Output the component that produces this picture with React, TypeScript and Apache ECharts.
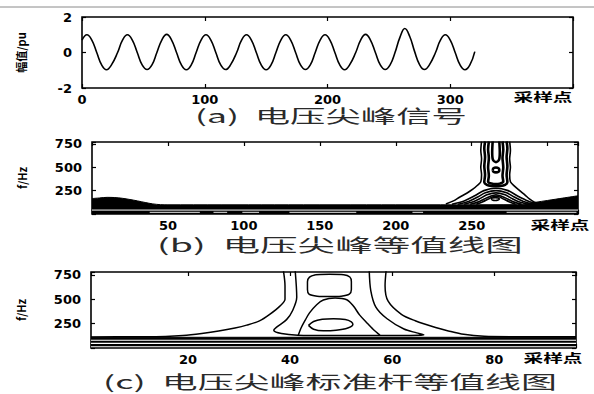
import React, { useEffect, useRef } from 'react';
import * as echarts from 'echarts';

// ---------- Panel (a): voltage spike waveform [sample, pu] ----------
const waveform: number[][] = [
  [0, 0.7], [4, 1.0], [8, 0.7], [12, 0], [16, -0.7], [20, -0.97], [24, -0.7],
  [29, 0], [33, 0.7], [37, 1.0], [41, 0.7], [45, 0], [49, -0.7], [53, -0.96], [57, -0.7],
  [61, 0], [65, 0.7], [69, 1.02], [73, 0.7], [77, 0], [81, -0.7], [85, -0.97], [89, -0.7],
  [93, 0], [97, 0.7], [101, 1.0], [105, 0.7], [109, 0], [113, -0.7], [117, -0.96], [121, -0.7],
  [126, 0], [130, 0.7], [134, 1.0], [138, 0.7], [142, 0], [146, -0.7], [150, -0.97], [154, -0.7],
  [158, 0], [162, 0.7], [166, 1.0], [170, 0.7], [174, 0], [178, -0.7], [182, -0.96], [186, -0.7],
  [190, 0], [194, 0.7], [198, 1.0], [202, 0.7], [206, 0], [210, -0.7], [214, -0.97], [218, -0.7],
  [223, 0], [227, 0.7], [231, 1.02], [235, 0.7], [239, 0], [243, -0.7], [247, -0.96], [251, -0.7],
  [255, 0], [259, 0.85], [263, 1.35], [267, 0.9], [271, 0.05], [275, -0.68], [279, -0.96], [283, -0.7],
  [288, 0], [292, 0.7], [296, 1.0], [300, 0.7], [304, 0], [308, -0.7], [312, -0.97], [316, -0.7], [320, 0.05],
];
const aXTicks = [0, 400, 100];
const aYTicks = [-2, 2, 2];

// ---------- Panel (b): contour map of the spike [sample, Hz] ----------
const bBandEdge: number[][] = [
  [0, 165], [5, 172], [10, 178], [15, 176], [20, 168], [25, 155], [30, 140], [35, 123],
  [40, 108], [45, 100], [50, 98], [120, 98], [200, 98], [280, 100], [286, 108], [292, 125],
  [300, 145], [310, 170], [320, 195],
];
const bWhiteLevel = 42;
const bGapLevel = 18;
const bGapStart = [38, 80, 99, 130, 211, 273];
const bGapEnd = [71, 89, 110, 174, 218, 319];
const bOuterLeft: number[][] = [
  [233, 106], [238, 140], [242, 179], [247, 225], [251, 268], [254, 310], [256, 345],
  [256.5, 420], [256, 500], [256.5, 590], [256, 680], [256.5, 775],
];
const bOuterRight: number[][] = [
  [295, 106], [291, 130], [288, 162], [285, 205], [281.6, 250], [278, 300], [275.5, 345],
  [275, 420], [275.5, 500], [275, 590], [275.5, 680], [275, 775],
];
const bArc2: number[][] = [[237, 105], [245, 140], [252, 195], [258, 250], [266, 276], [274, 250], [280, 195], [287, 140], [294, 105]];
const bArc3: number[][] = [[241, 105], [248, 135], [254, 182], [259, 227], [266, 250], [273, 227], [278, 182], [284, 135], [291, 105]];
const bArc4: number[][] = [[245, 105], [251, 130], [256, 170], [260, 206], [266, 226], [272, 206], [276, 170], [281, 130], [287, 105]];
const bArc5: number[][] = [[249, 105], [254, 127], [258, 158], [262, 188], [266, 205], [270, 188], [274, 158], [278, 127], [283, 105]];
const bArc6: number[][] = [[253, 105], [257, 128], [261, 160], [263.5, 181], [266, 189], [268.5, 181], [271, 160], [275, 128], [279, 105]];
const bCore: number[][] = [[262.8, 160], [263.6, 170], [265.5, 175], [267.4, 170], [268.2, 160], [267.4, 150], [265.5, 145], [263.6, 150], [262.8, 160]];
const bColU1: number[][] = [
  [258.8, 775], [258.3, 700], [258.8, 610], [258.3, 510], [258.8, 420], [258.3, 340], [260, 312], [263, 299],
  [266, 296], [269, 299], [272, 312], [273.5, 340], [273, 420], [273.5, 510], [273, 610], [273.5, 700], [273, 775],
];
const bColU2: number[][] = [
  [261.3, 775], [260.8, 690], [261.3, 600], [260.8, 500], [261.3, 410], [260.8, 345], [263, 325], [266, 319],
  [268.5, 325], [270.8, 345], [270.3, 410], [270.8, 500], [270.3, 600], [270.8, 690], [270.3, 775],
];
const bTallLoop: number[][] = [[263.8, 775], [263.5, 660], [264, 580], [266, 555], [268, 580], [268.5, 660], [268.2, 775]];
const bSmallLoop: number[][] = [[263.8, 471], [264.3, 490], [266, 498], [267.7, 490], [268.2, 471], [267.7, 452], [266, 445], [264.3, 452], [263.8, 471]];
const bXRange = [0, 320, 50];
const bYRange = [0, 770, 250];

// ---------- Panel (c): contour map of the standard spike [sample, Hz] ----------
const cBandTop = 110;
const cWhiteLevels = [80, 47, 13];
const cOuterLeft: number[][] = [
  [38.7, 790], [39, 640], [39, 500], [38, 430], [36, 345], [34, 278], [31.5, 235], [29.2, 206],
  [26, 175], [22.7, 150], [19, 128], [15.6, 118], [10, 115], [1, 114],
];
const cInner: number[][] = [
  [41, 790], [41.3, 520], [40.5, 385], [39.3, 291], [37.3, 212], [36.8, 182], [38.3, 148], [41.5, 131],
  [48, 128], [56, 128], [63, 129], [66.2, 134], [64.8, 155], [62.3, 195], [59, 300], [56.8, 420],
  [55.8, 590], [55.5, 790],
];
const cOuterRight: number[][] = [
  [58.8, 790], [58.6, 640], [59.2, 480], [61.8, 345], [64.5, 280], [68.5, 210], [71, 175], [74, 140],
  [78, 120], [84, 116], [96, 116],
];
const cBell: number[][] = [
  [41.6, 130], [42.1, 200], [42.9, 280], [43.8, 360], [45.2, 444], [46.5, 492], [48.8, 512],
  [51.1, 495], [52.4, 430], [53.6, 340], [55, 260], [56.3, 190], [57.6, 132],
];
const cTopOval: number[][] = [
  [45, 752], [47.7, 756], [50.5, 752], [51.7, 728], [52, 680], [52, 600], [51.6, 552], [50, 532],
  [47.7, 528], [45.3, 532], [43.7, 552], [43.4, 600], [43.4, 680], [43.8, 728], [45, 752],
];
const cLowOval: number[][] = [
  [43.6, 232], [44.6, 272], [46.3, 294], [48.5, 300], [50.8, 292], [52, 268], [52.3, 240],
  [51.3, 205], [49, 182], [46.5, 176], [44.6, 192], [43.6, 232],
];
const cXRange = [1, 96];
const cYRange = [0, 780, 250];

// ---------- Texts ----------
const captions = ['(a)  电压尖峰信号', '(b)  电压尖峰等值线图', '(c)  电压尖峰标准杆等值线图'];
const xAxisTitle = '采样点';
const yTitles = ['幅值/pu', 'f/Hz', 'f/Hz'];

const CAP_FONT = '18px "Noto Sans CJK SC", sans-serif';
const XT_FONT = 'bold 12px "Noto Sans CJK SC", sans-serif';

function measure(text: string, font: string): number {
  const ctx = document.createElement('canvas').getContext('2d');
  if (!ctx) return text.length * 18;
  ctx.font = font;
  return ctx.measureText(text).width;
}

const tickFont = { color: '#000', fontFamily: 'DejaVu Sans', fontWeight: 'bold' as const, fontSize: 13 };
const tickStyle = { show: true, inside: true, length: 4, lineStyle: { color: '#000', width: 1.2 } };
const noLine = { show: false, onZero: false };

function line(data: number[][], idx: number, width = 1.3, color = '#000', smooth: number | boolean = 0.3, area = false, z = 3) {
  const s: any = {
    type: 'line', xAxisIndex: idx, yAxisIndex: idx, data, symbol: 'none', showSymbol: false,
    silent: true, smooth, clip: true, z,
    lineStyle: { color, width },
  };
  if (area) s.areaStyle = { color: '#000', opacity: 1, origin: 'start' };
  return s;
}

export default function App() {
  const ref = useRef<HTMLDivElement>(null);
  useEffect(() => {
    if (!ref.current) return;
    const chart = echarts.init(ref.current, undefined, { renderer: 'svg' });

    const capTargets = [
      { cx: 331, cy: 115, w: 272 },
      { cx: 340, cy: 244, w: 366 },
      { cx: 330, cy: 381, w: 454 },
    ];
    const xtPos = [
      { cx: 543, cy: 97 },
      { cx: 560, cy: 225 },
      { cx: 553, cy: 358 },
    ];
    const xtScale = 59 / measure(xAxisTitle, XT_FONT);

    const graphic: any[] = [
      { type: 'line', shape: { x1: 0, y1: 7, x2: 594, y2: 7 }, style: { stroke: '#8a8a8a', lineWidth: 1 } },
    ];
    captions.forEach((t, i) => {
      const c = capTargets[i];
      graphic.push({
        type: 'text', x: c.cx, y: c.cy, scaleX: c.w / measure(t, CAP_FONT),
        style: { text: t, font: CAP_FONT, fill: '#2a2a2a', textAlign: 'center', textVerticalAlign: 'middle', align: 'center', verticalAlign: 'middle' },
      });
    });
    xtPos.forEach((p) => {
      graphic.push({
        type: 'text', x: p.cx, y: p.cy, scaleX: xtScale,
        style: { text: xAxisTitle, font: XT_FONT, fill: '#000', textAlign: 'center', textVerticalAlign: 'middle', align: 'center', verticalAlign: 'middle' },
      });
    });

    const grids = [
      { left: 82, top: 17, width: 491, height: 71 },
      { left: 92, top: 142, width: 486, height: 72 },
      { left: 91, top: 272, width: 485, height: 76 },
    ].map((g) => ({ ...g, show: true, borderColor: '#000', borderWidth: 1.6, backgroundColor: 'transparent' }));

    const xBase = (gi: number, min: number, max: number, interval: number | undefined, fmt: (v: number) => string) => [
      {
        gridIndex: gi, type: 'value', min, max, ...(interval ? { interval } : { splitNumber: 5 }), position: 'bottom',
        axisLine: noLine, axisTick: tickStyle, splitLine: { show: false },
        axisLabel: { ...tickFont, margin: 5, formatter: fmt },
      },
      {
        gridIndex: gi, type: 'value', min, max, ...(interval ? { interval } : { splitNumber: 5 }), position: 'top',
        axisLine: noLine, axisTick: tickStyle, splitLine: { show: false }, axisLabel: { show: false },
      },
    ];
    const yBase = (gi: number, min: number, max: number, interval: number, fmt: (v: number) => string, name: string, gap: number) => [
      {
        gridIndex: gi, type: 'value', min, max, interval, position: 'left',
        axisLine: noLine, axisTick: tickStyle, splitLine: { show: false },
        axisLabel: { ...tickFont, margin: 10, formatter: fmt },
        name, nameLocation: 'middle', nameGap: gap,
        nameTextStyle: { color: '#000', fontSize: 11, fontWeight: 'bold', fontFamily: '"Noto Sans CJK SC", sans-serif' },
      },
      {
        gridIndex: gi, type: 'value', min, max, interval, position: 'right',
        axisLine: noLine, axisTick: tickStyle, splitLine: { show: false }, axisLabel: { show: false },
      },
    ];

    const xAxis = [
      ...xBase(0, aXTicks[0], aXTicks[1], aXTicks[2], (v) => (v === aXTicks[1] ? '' : String(v))),
      ...xBase(1, bXRange[0], bXRange[1], bXRange[2], (v) => (v === 0 || v >= 300 ? '' : String(v))),
      ...xBase(2, cXRange[0], cXRange[1], undefined, (v) => (v % 20 === 0 ? String(v) : '')),
    ];
    const yAxis = [
      ...yBase(0, aYTicks[0], aYTicks[1], aYTicks[2], (v) => String(v), yTitles[0], 56),
      ...yBase(1, bYRange[0], bYRange[1], bYRange[2], (v) => (v === 0 || v === bYRange[1] ? '' : String(v)), yTitles[1], 65),
      ...yBase(2, cYRange[0], cYRange[1], cYRange[2], (v) => (v === 0 || v === cYRange[1] ? '' : String(v)), yTitles[2], 65),
    ];
    const A = 0, B = 2, C = 4;

    const series: any[] = [];
    // (a)
    series.push(line(waveform, A, 1.6, '#000', 0.45));
    // (b)
    series.push(line(bBandEdge, B, 1, '#000', 0.3, true, 2));
    series.push(line([[0, bWhiteLevel], [320, bWhiteLevel]], B, 1, '#fff', false, false, 2.5));
    bGapStart.forEach((s, i) => series.push(line([[s, bGapLevel], [bGapEnd[i], bGapLevel]], B, 1, '#e8e8e8', false, false, 2.5)));
    [bOuterLeft, bOuterRight, bArc2, bArc3, bArc4, bArc5, bArc6, bCore].forEach((d) => series.push(line(d, B, 1.6)));
    [bColU1, bColU2, bTallLoop, bSmallLoop].forEach((d) => series.push(line(d, B, 2.6)));
    // (c)
    series.push(line([[cXRange[0], cBandTop], [cXRange[1], cBandTop]], C, 1, '#000', false, true, 2));
    cWhiteLevels.forEach((lv) => series.push(line([[cXRange[0], lv], [cXRange[1], lv]], C, 1.1, '#fff', false, false, 2.5)));
    [cOuterLeft, cInner, cOuterRight, cBell, cTopOval, cLowOval].forEach((d) => series.push(line(d, C, 1.5)));

    chart.setOption({
      animation: false,
      backgroundColor: '#fff',
      grid: grids,
      xAxis,
      yAxis,
      series,
      graphic,
    });
    return () => chart.dispose();
  }, []);
  return <div ref={ref} style={{ position: 'fixed', left: 0, top: 0, width: 594, height: 394 }} />;
}
